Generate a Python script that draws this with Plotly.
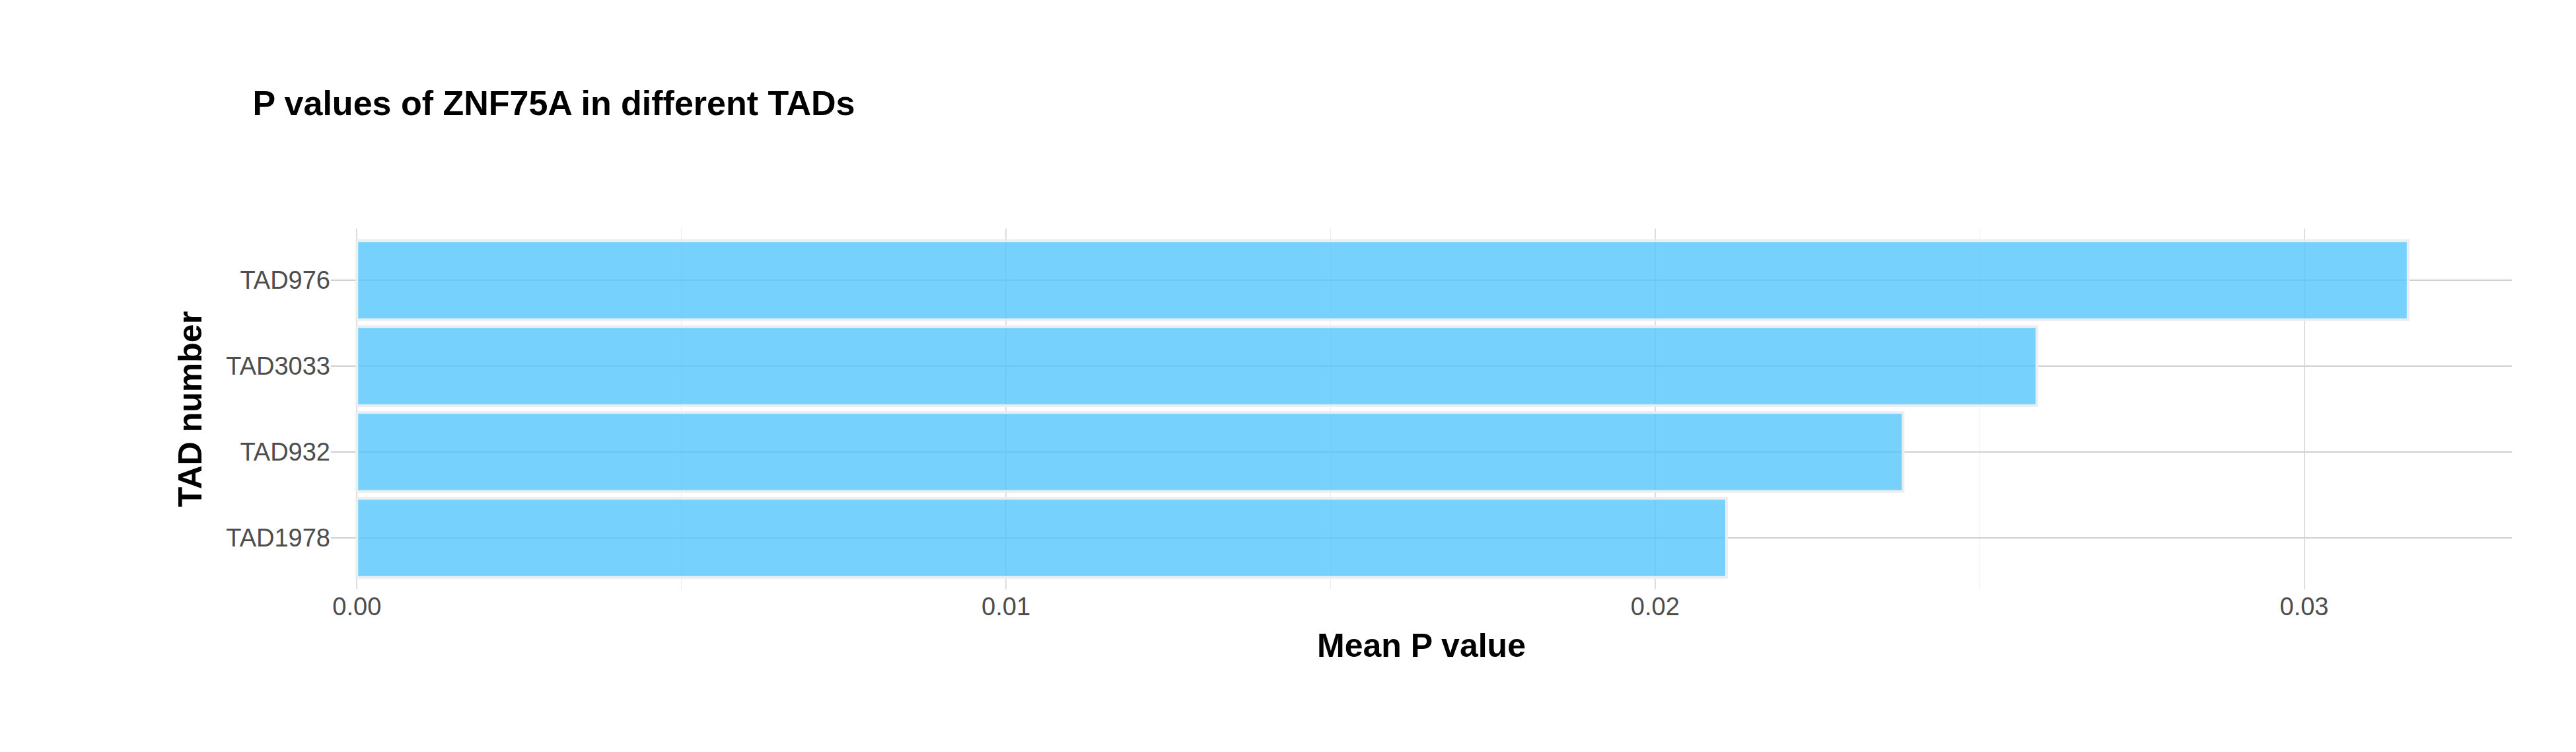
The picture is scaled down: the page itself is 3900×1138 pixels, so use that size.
import plotly.graph_objs as go

# TAD data
tads = ['TAD976', 'TAD3033', 'TAD932', 'TAD1978']
mean_p = [0.0316, 0.02588, 0.02382, 0.0211]

font = 'Liberation Sans'

fig = go.Figure()

fig.add_trace(go.Bar(x=mean_p, y=tads, orientation='h',
                     marker=dict(color='rgba(80,196,252,0.78)',
                                 line=dict(color='#e8eef2', width=4)),
                     width=0.92, showlegend=False))

fig.update_layout(
    width=3900, height=1138,
    plot_bgcolor='white', paper_bgcolor='white',
    margin=dict(l=493, r=105, t=338, b=254),
    title=dict(text='<b>P values of ZNF75A in different TADs</b>',
               x=0.096, xanchor='left', y=0.87, yanchor='middle',
               font=dict(family=font, size=52, color='black')),
    font=dict(family=font),
)

fig.update_xaxes(
    title=dict(text='<b>Mean P value</b>', font=dict(size=50, color='black'), standoff=20),
    range=[-0.0004, 0.0332], tickvals=[0, 0.01, 0.02, 0.03],
    ticktext=['0.00', '0.01', '0.02', '0.03'],
    tickfont=dict(size=38, color='#4d4d4d'),
    showgrid=True, gridcolor='#dedede', gridwidth=2,
    minor=dict(tickvals=[0.005, 0.015, 0.025], showgrid=True, gridcolor='#ececec', gridwidth=1),
    zeroline=False, ticks='')

fig.update_yaxes(
    title=dict(text='<b>TAD number</b>', font=dict(size=50, color='black'), standoff=20),
    categoryorder='array', categoryarray=tads[::-1], range=[-0.6, 3.6],
    tickfont=dict(size=38, color='#4d4d4d'),
    showgrid=True, gridcolor='#d0d0d0', gridwidth=2, ticks='')

fig.write_html("out.html")
